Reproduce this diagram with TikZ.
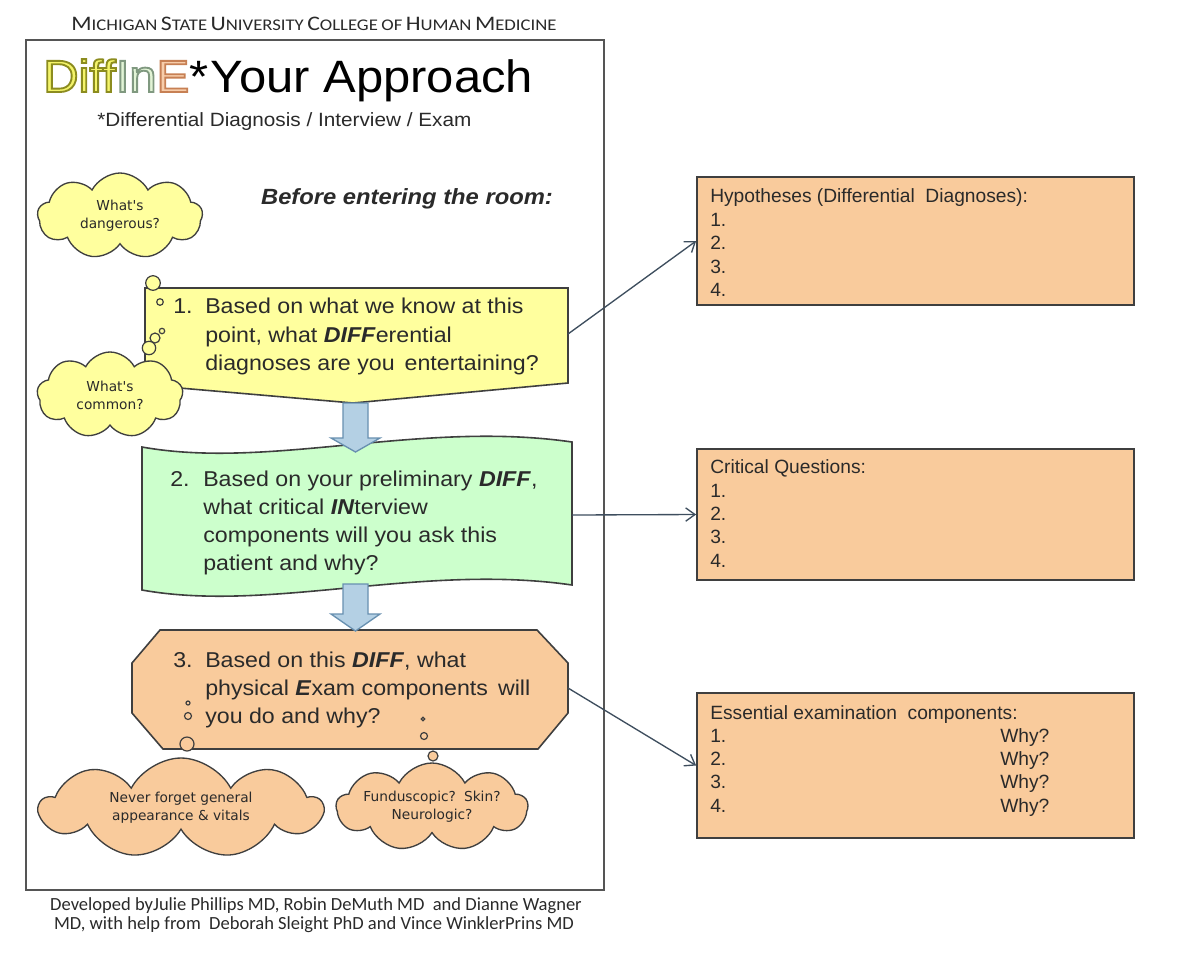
\documentclass[tikz,border=0pt]{standalone}
\usepackage{fontspec}
\setmainfont{Liberation Sans}
\newfontfamily\arialx[FakeStretch=1.08]{Liberation Sans}
\newfontfamily\carl{Carlito}
\newfontfamily\carlx[FakeStretch=1.15]{Carlito}
\newfontfamily\comic{DejaVu Sans}
\usetikzlibrary{shapes.symbols,arrows.meta}
\newdimen\pxu \pxu=0.75pt
\definecolor{cyel}{HTML}{FFFF9E}
\definecolor{cgrn}{HTML}{CCFFCC}
\definecolor{cpch}{HTML}{F9CB9C}
\definecolor{cblu}{HTML}{B4D0E4}
\definecolor{cbluD}{HTML}{6890B0}
\definecolor{cline}{HTML}{3F3F3F}
\definecolor{ctxt}{HTML}{2A2A2A}
\definecolor{cconn}{HTML}{3E4E5E}
\definecolor{cframe}{HTML}{555555}
\definecolor{tyel}{HTML}{F4F46A}
\definecolor{tgrn}{HTML}{E2F4D6}
\definecolor{tpch}{HTML}{F7CDAA}
% outlined text: #1 stroke colour as "r g b", #2 fill colour, #3 text
\newcommand\outl[3]{{\color{#2}\special{pdf:literal direct 2 Tr 1.4 w #1 RG}#3\special{pdf:literal direct 0 Tr}}}
\newcommand\bsc[1]{{\fontsize{15.5pt}{18pt}\selectfont #1}}
\newcommand\ssc[1]{{\fontsize{12.2pt}{14pt}\selectfont #1}}
\tikzset{
  btxt/.style={anchor=base west, inner sep=0pt, text=ctxt, font=\arialx\fontsize{16.1pt}{19pt}\selectfont},
  rtxt/.style={anchor=base west, inner sep=0pt, text=ctxt, font=\fontsize{14.4pt}{17pt}\selectfont},
  rbox/.style={draw=cline, fill=cpch, line width=1.3pt, inner sep=0pt, minimum width=437\pxu},
  ctxtstyle/.style={align=center, text=ctxt, font=\comic\fontsize{10.3pt}{13.5pt}\selectfont},
  cloudY/.style={cloud, cloud puffs=9, cloud puff arc=125, cloud ignores aspect, fill=cyel, draw=cline, line width=1pt, inner sep=0pt, ctxtstyle},
  cloudP/.style={cloudY, fill=cpch},
  bubY/.style={fill=cyel, draw=cline, line width=0.9pt},
  bubP/.style={fill=cpch, draw=cline, line width=0.9pt},
  barrow/.style={fill=cblu, draw=cbluD, line width=1pt, line join=miter},
  conn/.style={draw=cconn, line width=1pt, -{Straight Barb[length=7pt,width=10pt,line width=1pt]}},
  shp/.style={draw=cline, line width=1.2pt, line join=miter}
}
\begin{document}
\begin{tikzpicture}[x=0.75pt,y=-0.75pt]
\useasboundingbox (0,0) rectangle (1188,972);
\fill[white] (0,0) rectangle (1188,972);

% header
\node[text=ctxt, font=\carlx, inner sep=0pt] (hdr) at (314,24)
 {\bsc{M}\ssc{ICHIGAN} \bsc{S}\ssc{TATE} \bsc{U}\ssc{NIVERSITY} \bsc{C}\ssc{OLLEGE} \ssc{OF} \bsc{H}\ssc{UMAN} \bsc{M}\ssc{EDICINE}};

% frame
\draw[draw=cframe, line width=1.6pt] (26,40) rectangle (604,890);

% title
\node[anchor=base west, inner sep=0pt, text=black, font=\arialx\fontsize{34pt}{38pt}\selectfont] (title) at (43,92)
 {\outl{0.55 0.55 0.12}{tyel}{Diff}\outl{0.5 0.6 0.5}{tgrn}{In}\outl{0.78 0.5 0.33}{tpch}{E}*\kern2pt Your Approach};
\node[anchor=base west, inner sep=0pt, text=ctxt, font=\arialx\fontsize{14.4pt}{17pt}\selectfont] (sub) at (97,126)
 {*Differential Diagnosis / Interview / Exam};
\node[anchor=base, inner sep=0pt, text=ctxt, font=\arialx\bfseries\itshape\fontsize{16.5pt}{19pt}\selectfont] (before) at (407,204)
 {Before entering the room:};

% box 1
\draw[shp, fill=cyel] (145,288) -- (568,288) -- (568,383) -- (353,403) -- (145,385) -- cycle;
\coordinate (b1e) at (568,334);
\node[btxt] (b1n) at (173,313) {1.};
\node[btxt] (b1a) at (205,313) {Based on what we know at this};
\node[btxt] (b1b) at (205,342) {point, what \textbf{\textit{DIFF}}erential};
\node[btxt] (b1c) at (205,370) {diagnoses are you\, entertaining?};

% box 2
\draw[shp, fill=cgrn] (142,447) .. controls (270,470) and (420,420) .. (572,442) -- (572,585) .. controls (420,563) and (270,613) .. (142,590) -- cycle;
\coordinate (b2e) at (572,515);
\node[btxt] (b2n) at (170,486) {2.};
\node[btxt] (b2a) at (203,486) {Based on your preliminary \textbf{\textit{DIFF}},};
\node[btxt] (b2b) at (203,514) {what critical \textbf{\textit{IN}}terview};
\node[btxt] (b2c) at (203,542) {components will you ask this};
\node[btxt] (b2d) at (203,570) {patient and why?};

% box 3
\draw[shp, fill=cpch] (160,630) -- (537,630) -- (568,663) -- (568,713) -- (538,749) -- (163,749) -- (132,713) -- (132,663) -- cycle;
\coordinate (b3e) at (568,688);
\node[btxt] (b3n) at (173,667) {3.};
\node[btxt] (b3a) at (205,667) {Based on this \textbf{\textit{DIFF}}, what};
\node[btxt] (b3b) at (205,695) {physical \textbf{\textit{E}}xam components\, will};
\node[btxt] (b3c) at (205,723) {you do and why?};

% block arrows
\draw[barrow] (343,403) -- (368,403) -- (368,438) -- (380,438) -- (355.5,452) -- (331,438) -- (343,438) -- cycle;
\draw[barrow] (343,584) -- (368,584) -- (368,614) -- (380,614) -- (355.5,631) -- (331,614) -- (343,614) -- cycle;

% thought bubbles
\draw[bubY] (153,283) circle[radius=7.3];
\draw[bubY] (160,302) circle[radius=3.3];
\draw[bubY] (162,331) circle[radius=2.7];
\draw[bubY] (155,338) circle[radius=5];
\draw[bubY] (149,348) circle[radius=6.7];
\draw[bubP] (188,703) circle[radius=2];
\draw[bubP] (188,716) circle[radius=3.5];
\draw[bubP] (187,744) circle[radius=7];
\draw[bubP] (423,719) circle[radius=1.8];
\draw[bubP] (424,736) circle[radius=3.5];
\draw[bubP] (433,756) circle[radius=5];

% clouds
\node[cloudY, minimum width=165\pxu, minimum height=86\pxu] (cdang) at (120,216) {What's\\dangerous?};
\node[cloudY, minimum width=146\pxu, minimum height=86\pxu] (ccomm) at (110,395) {What's\\common?};
\node[cloudP, minimum width=282\pxu, minimum height=100\pxu] (cnever) at (181,808) {Never forget general\\appearance \& vitals};
\node[cloudP, minimum width=178\pxu, minimum height=88\pxu] (cfund) at (432,807) {Funduscopic?\, Skin?\\Neurologic?};

% right boxes
\node[rbox, minimum height=128\pxu] (hyp) at (915.5,241) {};
\node[rtxt] (h0) at (710,202) {Hypotheses (Differential\ \ Diagnoses):};
\node[rtxt] (h1) at (710,226) {1.};
\node[rtxt] (h2) at (710,249) {2.};
\node[rtxt] (h3) at (710,273) {3.};
\node[rtxt] (h4) at (710,296) {4.};

\node[rbox, minimum height=131\pxu] (crit) at (915.5,514.5) {};
\node[rtxt] (q0) at (710,473) {Critical Questions:};
\node[rtxt] (q1) at (710,497) {1.};
\node[rtxt] (q2) at (710,520) {2.};
\node[rtxt] (q3) at (710,543) {3.};
\node[rtxt] (q4) at (710,567) {4.};

\node[rbox, minimum height=145\pxu] (ess) at (915.5,765.5) {};
\node[rtxt] (e0) at (710,719) {Essential examination\ \ components:};
\node[rtxt] (e1) at (710,742) {1.};
\node[rtxt] (e2) at (710,765) {2.};
\node[rtxt] (e3) at (710,788) {3.};
\node[rtxt] (e4) at (710,812) {4.};
\node[rtxt] (w1) at (1000,742) {Why?};
\node[rtxt] (w2) at (1000,765) {Why?};
\node[rtxt] (w3) at (1000,788) {Why?};
\node[rtxt] (w4) at (1000,812) {Why?};

% connectors
\draw[conn] (b1e) -- (hyp.west);
\draw[conn] (b2e) -- (crit.west);
\draw[conn] (b3e) -- (ess.west);

% footer
\node[text=ctxt, font=\carl\fontsize{13.9pt}{16pt}\selectfont, inner sep=0pt] (f1) at (316,906) {Developed byJulie Phillips MD, Robin DeMuth MD\ \ and Dianne Wagner};
\node[text=ctxt, font=\carl\fontsize{13.9pt}{16pt}\selectfont, inner sep=0pt] (f2) at (314,925) {MD,\ with help from\ \ Deborah Sleight PhD and Vince WinklerPrins MD};
\end{tikzpicture}
\end{document}
